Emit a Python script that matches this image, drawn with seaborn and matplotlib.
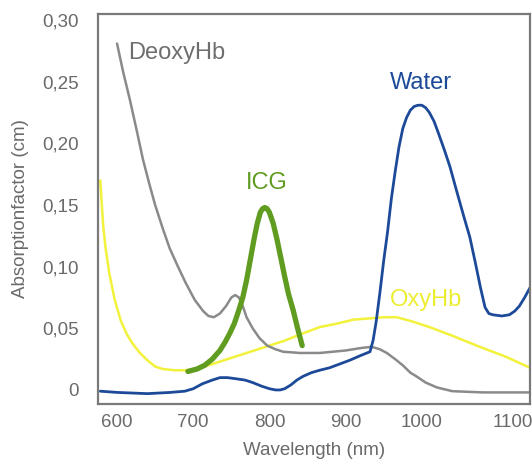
import matplotlib
matplotlib.use("Agg")
import matplotlib.pyplot as plt
import matplotlib.transforms as mtransforms
from matplotlib.ticker import FuncFormatter
import seaborn as sns

# ---- data ----
deoxy_nm = [600, 608, 617, 626, 634, 642, 650, 660, 669, 680, 690, 702, 713, 720, 727, 735, 743, 750, 755, 760, 765, 770, 778, 787, 797, 808, 818, 840, 866, 900, 920, 934, 945, 954, 965, 975, 985, 993, 1005, 1020, 1040, 1080, 1142]
deoxy_val = [0.281, 0.258, 0.235, 0.210, 0.187, 0.168, 0.150, 0.131, 0.115, 0.100, 0.087, 0.073, 0.064, 0.060, 0.059, 0.062, 0.068, 0.075, 0.077, 0.075, 0.068, 0.059, 0.050, 0.042, 0.036, 0.033, 0.031, 0.030, 0.030, 0.032, 0.034, 0.035, 0.033, 0.030, 0.025, 0.020, 0.014, 0.011, 0.006, 0.002, -0.001, -0.002, -0.002]

oxy_nm = [578, 580, 582, 585, 590, 597, 605, 613, 620, 630, 640, 650, 660, 675, 689, 705, 720, 740, 760, 780, 800, 820, 840, 866, 890, 910, 930, 950, 967, 985, 1010, 1040, 1076, 1110, 1142]
oxy_val = [0.170, 0.150, 0.132, 0.115, 0.094, 0.073, 0.056, 0.045, 0.038, 0.030, 0.024, 0.019, 0.017, 0.016, 0.016, 0.017, 0.020, 0.024, 0.028, 0.032, 0.036, 0.040, 0.045, 0.051, 0.054, 0.057, 0.058, 0.059, 0.059, 0.056, 0.051, 0.044, 0.035, 0.027, 0.018]

water_nm = [578, 600, 640, 670, 689, 700, 712, 725, 735, 745, 757, 768, 778, 790, 800, 808, 814, 820, 828, 836, 844, 855, 866, 879, 905, 920, 932, 936, 940, 945, 950, 955, 960, 965, 970, 975, 980, 985, 990, 995, 1000, 1005, 1010, 1016, 1022, 1030, 1037, 1045, 1055, 1063, 1070, 1077, 1083, 1088, 1093, 1105, 1115, 1122, 1128, 1135, 1142]
water_val = [-0.001, -0.002, -0.003, -0.002, -0.001, 0.001, 0.005, 0.008, 0.010, 0.010, 0.009, 0.008, 0.006, 0.003, 0.001, 0.000, 0.000, 0.001, 0.004, 0.008, 0.011, 0.014, 0.016, 0.018, 0.024, 0.028, 0.031, 0.040, 0.055, 0.079, 0.105, 0.128, 0.155, 0.177, 0.197, 0.212, 0.221, 0.227, 0.230, 0.231, 0.231, 0.229, 0.225, 0.218, 0.208, 0.194, 0.181, 0.163, 0.141, 0.124, 0.104, 0.083, 0.067, 0.062, 0.061, 0.060, 0.061, 0.064, 0.068, 0.075, 0.083]

icg_nm = [693, 705, 715, 725, 735, 742, 748, 754, 760, 765, 770, 775, 780, 784, 788, 791, 794, 797, 800, 805, 810, 815, 820, 825, 831, 837, 843]
icg_val = [0.015, 0.017, 0.020, 0.025, 0.032, 0.039, 0.046, 0.054, 0.065, 0.075, 0.089, 0.106, 0.123, 0.135, 0.144, 0.147, 0.148, 0.147, 0.144, 0.135, 0.122, 0.107, 0.092, 0.078, 0.065, 0.050, 0.036]

x_ticks = [600, 700, 800, 900, 1000, 1100]
y_ticks = [0, 0.05, 0.10, 0.15, 0.20, 0.25, 0.30]

series_labels = ["DeoxyHb", "OxyHb", "Water", "ICG"]

# ---- style ----
sns.set_theme(style="white")
plt.rcParams["font.family"] = ["Liberation Sans", "DejaVu Sans"]

c_grey = "#8a8a8a"
c_yellow = "#f2f23c"
c_blue = "#1c4a98"
c_green = "#5f9c1f"

fig = plt.figure(figsize=(5.32, 4.61), dpi=100)
ax = fig.add_axes([98 / 532, 1 - 404 / 461, (530 - 98) / 532, (404 - 14) / 461])

sns.lineplot(x=oxy_nm, y=oxy_val, ax=ax, color=c_yellow, linewidth=1.8)
sns.lineplot(x=deoxy_nm, y=deoxy_val, ax=ax, color=c_grey, linewidth=1.8)
sns.lineplot(x=water_nm, y=water_val, ax=ax, color=c_blue, linewidth=2.0)
sns.lineplot(x=icg_nm, y=icg_val, ax=ax, color=c_green, linewidth=3.8)

ax.set_xlim(575, 1142)
ax.set_ylim(-0.0114, 0.305)
ax.set_xticks(x_ticks)
ax.set_yticks(y_ticks)
ax.yaxis.set_major_formatter(FuncFormatter(lambda v, p: "0" if abs(v) < 1e-9 else f"{v:.2f}".replace(".", ",")))
ax.tick_params(axis="both", length=0, labelsize=13.5, labelcolor="#6a6a6a")
ax.tick_params(axis="y", pad=14)
ax.tick_params(axis="x", pad=7)

# nudge last x label like the reference
lbls = ax.get_xticklabels()
off = mtransforms.ScaledTranslation(15 / 100, 0, fig.dpi_scale_trans)
lbls[-1].set_transform(lbls[-1].get_transform() + off)

for s in ax.spines.values():
    s.set_color("#7a7a7a")
    s.set_linewidth(1.6)

ax.set_xlabel("Wavelength (nm)", fontsize=13.5, color="#6a6a6a", labelpad=8)
ax.set_ylabel("Absorptionfactor (cm)", fontsize=13.5, color="#6a6a6a", labelpad=9)

# series labels
ax.text(614, 0.273, series_labels[0], fontsize=17, color="#6e6e6e", va="center", ha="left")
ax.text(958, 0.073, series_labels[1], fontsize=17, color="#eded30", va="center", ha="left")
ax.text(958, 0.249, series_labels[2], fontsize=17, color=c_blue, va="center", ha="left")
ax.text(797, 0.168, series_labels[3], fontsize=17, color=c_green, va="center", ha="center")

fig.savefig("out.png", dpi=100)
